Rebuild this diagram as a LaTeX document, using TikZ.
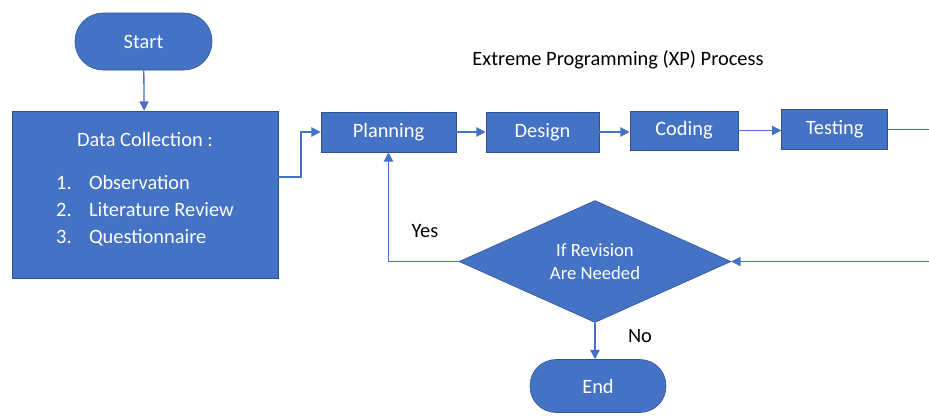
\documentclass[tikz,border=0pt]{standalone}
\usepackage{fontspec}
\setmainfont{Carlito}
\usetikzlibrary{shapes.geometric,arrows.meta}
\definecolor{xpblue}{HTML}{4472C4}
\definecolor{xpedge}{HTML}{2F528F}

\tikzset{
style1/.style= {rectangle, rounded corners=19.5pt, draw=xpedge, fill=xpblue, text=white, align=center, inner sep=0pt, font=\fontsize{15.3}{18.4}\selectfont},
style2/.style= {rectangle, draw=xpedge, fill=xpblue, text=white, align=center, inner sep=0pt, minimum height=30pt, font=\fontsize{15.3}{20.25}\selectfont},
style3/.style= {diamond, draw=xpedge, fill=xpblue, text=white, align=center, inner sep=0pt, aspect=2.2, font=\fontsize{14}{17}\selectfont},
style4/.style= {align=center, text=black, inner sep=0pt, font=\fontsize{15.3}{18.4}\selectfont},
flow/.style= {draw=xpblue, line width=1pt}
}

\begin{document}
\begin{tikzpicture}[x=0.75pt, y=-0.75pt, >={Triangle[length=7pt,width=7pt]}]
\useasboundingbox (0,0) rectangle (929,415);

% start, data collection and the title
\node[style1, rounded corners=21pt, minimum width=102.75pt, minimum height=42.75pt] (start) at (143.5,41.5) {Start};
\node[style2, minimum width=199.5pt, minimum height=125.25pt] (data) at (145,194.5) {Data Collection :\\[16.5pt]
  \begin{tabular}{@{}l@{\hspace{13pt}}l@{}}1.&Observation\\2.&Literature Review\\3.&Questionnaire\end{tabular}\\[3pt]};
\node[style4] (title) at (618,60) {Extreme Programming (XP) Process};

% the XP steps
\node[style2, minimum width=101.25pt] (plan) at (388.5,132) {Planning};
\node[style2, minimum width=84.75pt] (design) at (542.5,132) {Design};
\node[style2, minimum width=81pt, minimum height=29.25pt] (code) at (684,130.5) {Coding};
\node[style2, minimum width=79.5pt] (test) at (834.7,129.5) {Testing};

% decision and end
\node[style3, minimum width=204pt, minimum height=91.5pt] (rev) at (595,261.5) {If Revision\\Are Needed};
\node[style1, minimum width=102pt, minimum height=39.75pt] (end) at (598,386) {End};
\node[style4] (yes) at (425,231) {Yes};
\node[style4] (no) at (640,336) {No};

\coordinate (bend) at (301,177);
\coordinate (outR) at (929,129.5);
\coordinate (inR) at (929,261.5);

% connectors
\draw[flow,->] (start) -- (data);
\draw[flow,->] (data.east |- bend) -- (bend) |- (plan.west);
\draw[flow,->] (plan) -- (design);
\draw[flow,->] (design.east) -- (design.east -| code.west);
\draw[flow,->] (code.east) -- (code.east -| test.west);
\draw[flow] (test.east) -- (outR);
\draw[flow,->] (inR) -- (rev.east);
\draw[flow,->] (rev.west) -| (plan.south);
\draw[flow,->] (rev.south) -- (end.north -| rev.south);
\end{tikzpicture}
\end{document}
